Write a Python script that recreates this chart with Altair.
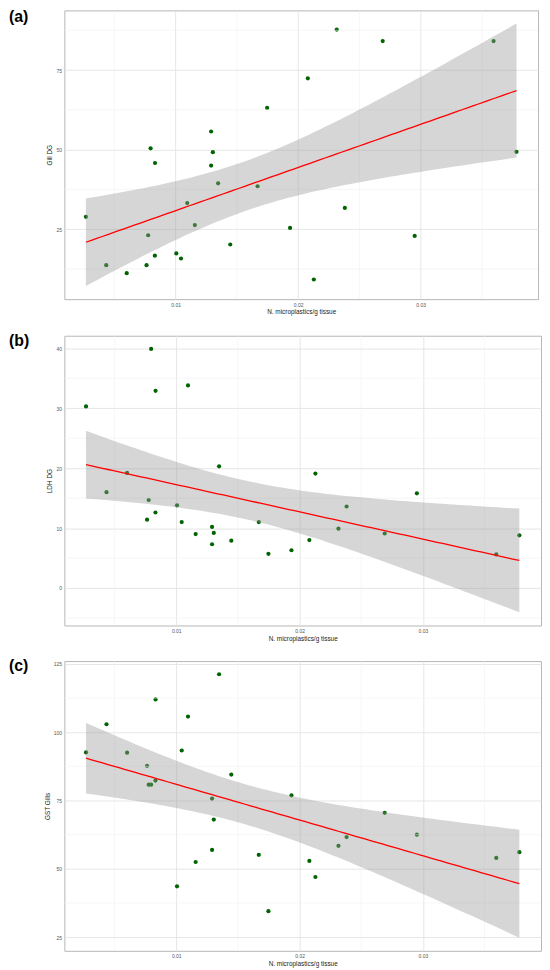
import altair as alt
import numpy as np
import pandas as pd

# N. microplastics / g tissue (shared by all three panels)
x_vals = [0.00268, 0.00434, 0.00601, 0.00763, 0.00776, 0.00796, 0.00832, 0.00831,
          0.01006, 0.01044, 0.01095, 0.01157, 0.01290, 0.01304, 0.01290, 0.01347,
          0.01446, 0.01669, 0.01747, 0.01934, 0.02079, 0.02128, 0.02315, 0.02381,
          0.02690, 0.02951, 0.03595, 0.03782]

gill_dg = [28.9, 13.7, 11.2, 13.7, 23.1, 50.4, 45.8, 16.7, 17.4, 15.8, 33.2, 26.3,
           55.7, 49.2, 45.0, 39.4, 20.2, 38.5, 63.1, 25.4, 72.4, 9.2, 87.7, 31.7,
           84.1, 22.9, 84.1, 49.3]

ldh_dg = [30.3, 16.0, 19.2, 11.4, 14.7, 39.9, 32.9, 12.6, 13.8, 11.0, 33.8, 9.0,
          10.2, 9.2, 7.3, 20.3, 7.9, 11.0, 5.7, 6.3, 8.0, 19.1, 9.9, 13.6,
          9.1, 15.8, 5.6, 8.8]

gst_gills = [92.6, 102.9, 92.5, 87.7, 80.8, 80.8, 112.0, 82.3, 43.6, 93.3, 105.7, 52.5,
             56.9, 68.0, 75.7, 121.2, 84.5, 55.1, 34.5, 76.9, 52.9, 47.0, 58.4, 61.6,
             70.5, 62.5, 54.0, 56.1]

x_title = "N. microplastics/g tissue"
panel_labels = ["(a)", "(b)", "(c)"]
y_titles = ["Gill DG", "LDH DG", "GST Gills"]

x_major = [0.01, 0.02, 0.03]
x_minor = [0.005, 0.015, 0.025, 0.035]
y_major = [[25, 50, 75], [0, 10, 20, 30, 40], [25, 50, 75, 100, 125]]
y_minor = [[12.5, 37.5, 62.5, 87.5], [-5, 5, 15, 25, 35], [37.5, 62.5, 87.5, 112.5]]

T_CRIT = 2.0555  # t(0.975, df=26)

FONT = "Liberation Sans"
GRID_MAJOR = "#e3e3e3"
GRID_MINOR = "#f0f0f0"


def fit_band(x, y):
    x = np.asarray(x, float)
    y = np.asarray(y, float)
    n = len(x)
    xm = x.mean()
    sxx = ((x - xm) ** 2).sum()
    b1 = ((x - xm) * (y - y.mean())).sum() / sxx
    b0 = y.mean() - b1 * xm
    resid = y - (b0 + b1 * x)
    s = np.sqrt((resid ** 2).sum() / (n - 2))
    xs = np.linspace(x.min(), x.max(), 80)
    fit = b0 + b1 * xs
    se = s * np.sqrt(1.0 / n + (xs - xm) ** 2 / sxx)
    return pd.DataFrame({"x": xs, "fit": fit, "lo": fit - T_CRIT * se, "hi": fit + T_CRIT * se})


xr = max(x_vals) - min(x_vals)
x_dom = [float(min(x_vals) - 0.05 * xr), float(max(x_vals) + 0.05 * xr)]

sizes = [(479, 292), (482, 293), (482, 293)]
label_dx = -56
label_dy = [-1, -3, -3]

panels = []
for i, ys in enumerate([gill_dg, ldh_dg, gst_gills]):
    pts = pd.DataFrame({"x": x_vals, "y": ys})
    band = fit_band(x_vals, ys)
    lo = float(min(min(ys), band["lo"].min()))
    hi = float(max(max(ys), band["hi"].max()))
    yr = hi - lo
    y_dom = [lo - 0.05 * yr, hi + 0.05 * yr]

    xs = alt.Scale(domain=x_dom, nice=False, zero=False)
    yscale = alt.Scale(domain=y_dom, nice=False, zero=False)

    x_axis = alt.Axis(title=x_title, values=x_major, format=".2f", grid=True,
                      ticks=False, domain=False, labelOverlap=False)
    y_axis = alt.Axis(title=y_titles[i], values=y_major[i], format="d", grid=True,
                      ticks=False, domain=False, labelOverlap=False)

    vminor = alt.Chart(pd.DataFrame({"v": x_minor})).mark_rule(
        color=GRID_MINOR, strokeWidth=0.6
    ).encode(x=alt.X("v:Q", scale=xs))
    hminor = alt.Chart(pd.DataFrame({"v": y_minor[i]})).mark_rule(
        color=GRID_MINOR, strokeWidth=0.6
    ).encode(y=alt.Y("v:Q", scale=yscale))

    points = alt.Chart(pts).mark_circle(size=18, color="#006400", opacity=1).encode(
        x=alt.X("x:Q", scale=xs, axis=x_axis),
        y=alt.Y("y:Q", scale=yscale, axis=y_axis),
    )
    ribbon = alt.Chart(band).mark_area(color="#999999", opacity=0.4).encode(
        x=alt.X("x:Q", scale=xs),
        y=alt.Y("lo:Q", scale=yscale),
        y2="hi:Q",
    )
    line = alt.Chart(band).mark_line(color="#ff0000", strokeWidth=1.3).encode(
        x=alt.X("x:Q", scale=xs),
        y=alt.Y("fit:Q", scale=yscale),
    )
    label = alt.Chart(pd.DataFrame({"t": [panel_labels[i]]})).mark_text(
        font=FONT, fontSize=16, fontWeight="bold", align="left", baseline="top", color="#000000"
    ).encode(x=alt.value(label_dx), y=alt.value(label_dy[i]), text="t:N")

    w, h = sizes[i]
    panels.append(
        alt.layer(points, vminor, hminor, ribbon, line, label).properties(width=w, height=h)
    )

top_two = alt.vconcat(panels[0], panels[1], spacing=16)
chart = alt.vconcat(top_two, panels[2], spacing=15).properties(
    padding={"left": 0, "top": -5, "right": 0, "bottom": 0}
).configure_view(
    stroke="#b5b5b5", strokeWidth=1
).configure_axis(
    labelFont=FONT, titleFont=FONT, labelFontSize=5, titleFontSize=6.5,
    labelColor="#555555", titleColor="#222222", titleFontWeight="normal",
    gridColor=GRID_MAJOR, gridWidth=0.9,
    labelPadding=3, titlePadding=3,
).configure_axisX(labelPadding=3, titlePadding=2)

chart.save("out.html", embed_options={"renderer": "svg", "actions": False})
